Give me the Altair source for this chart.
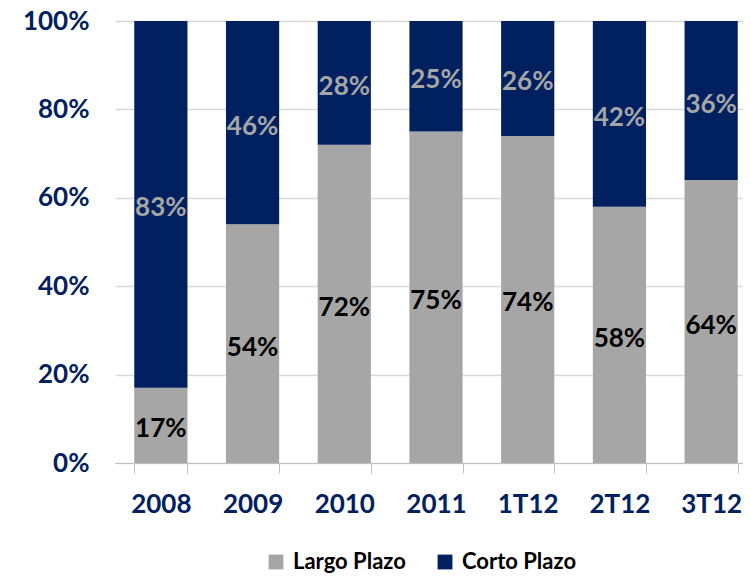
import altair as alt
import pandas as pd

periods = ["2008", "2009", "2010", "2011", "1T12", "2T12", "3T12"]
largo = [17, 54, 72, 75, 74, 58, 64]
corto = [83, 46, 28, 25, 26, 42, 36]
series = ["Largo Plazo", "Corto Plazo"]

rows = []
for i, p in enumerate(periods):
    rows.append({"period": p, "serie": series[0], "value": largo[i], "ord": 0})
    rows.append({"period": p, "serie": series[1], "value": corto[i], "ord": 1})
df = pd.DataFrame(rows)

FONT = "Lato"
NAVY = "#002060"
GRAY = "#a6a6a6"

xenc = alt.X("period:N", sort=periods, title=None,
             scale=alt.Scale(range=[0, 642], paddingInner=0.42, paddingOuter=0.21),
             axis=alt.Axis(labelAngle=0, labelFont=FONT, labelFontSize=26, labelFontWeight="bold",
                           labelColor=NAVY, labelPadding=18, domainColor="#bfbfbf",
                           tickColor="#bfbfbf", tickSize=10, tickBand="extent", grid=False))

base = alt.Chart(df).transform_stack(
    stack="value", as_=["y0", "y1"], groupby=["period"],
    sort=[alt.SortField("ord", order="ascending")]
).transform_calculate(mid="(datum.y0 + datum.y1) / 2", lab="datum.value + '%'")

bars = base.mark_bar().encode(
    x=xenc,
    y=alt.Y("y0:Q", title=None, scale=alt.Scale(domain=[0, 100], nice=False),
            axis=alt.Axis(values=[0, 20, 40, 60, 80, 100], labelExpr="datum.value + '%'",
                          labelFont=FONT, labelFontSize=26, labelFontWeight="bold",
                          labelColor=NAVY, labelPadding=26, domain=False, ticks=False,
                          gridColor="#d9d9d9", gridWidth=1.5)),
    y2="y1:Q",
    color=alt.Color("serie:N", sort=series,
                    scale=alt.Scale(domain=series, range=[GRAY, NAVY]),
                    legend=alt.Legend(title=None, orient="none", direction="horizontal",
                                      legendX=150, legendY=530, labelFont=FONT, labelFontSize=22,
                                      labelFontWeight="bold", labelColor="#000000",
                                      symbolType="square", symbolSize=220, symbolStrokeWidth=0,
                                      columnPadding=28, labelOffset=6)),
)

texts = base.mark_text(font=FONT, fontSize=26, fontWeight="bold", baseline="middle", dy=4).encode(
    x=alt.X("period:N", sort=periods),
    y=alt.Y("mid:Q"),
    text="lab:N",
    color=alt.Color("serie:N", scale=alt.Scale(domain=series, range=["#000000", GRAY]), legend=None),
)

chart = alt.layer(bars, texts).resolve_scale(color="independent").properties(
    width=628, height=442,
    autosize=alt.AutoSizeParams(type="none"),
    padding={"left": 107, "top": 13, "right": 0, "bottom": 110},
).configure_view(stroke=None)

chart.save("out.html", embed_options={"renderer": "svg", "actions": False})
